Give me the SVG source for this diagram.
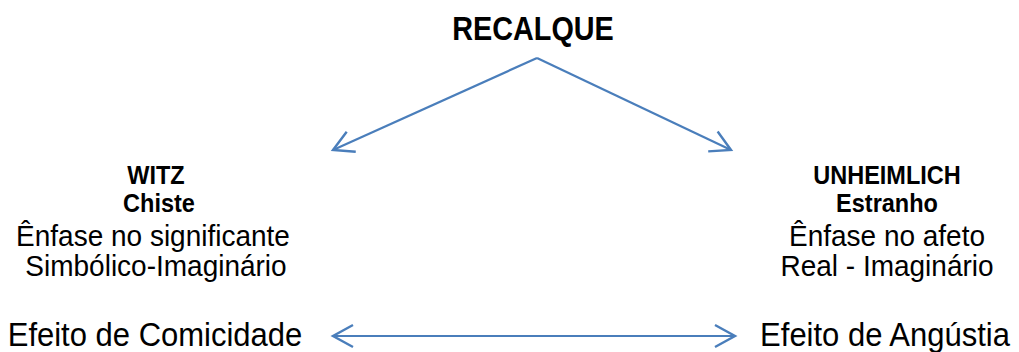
<svg xmlns="http://www.w3.org/2000/svg" width="1019" height="352" viewBox="0 0 1019 352">
  <style>
    text { font-family: "Liberation Sans", Arial, sans-serif; fill: #000; text-anchor: middle; }
    .title { font-weight: bold; font-size: 30px; }
    .head { font-weight: bold; font-size: 24px; }
    .body { font-size: 28px; }
    .effect { font-size: 31px; }
    .link { stroke: #4a7ebb; stroke-width: 2.2; fill: none; }
  </style>
  <defs>
    <marker id="open" markerUnits="userSpaceOnUse" markerWidth="30" markerHeight="30" refX="22" refY="12" orient="auto-start-reverse" viewBox="0 0 30 24">
      <path d="M2,1 L22,12 L2,23" fill="none" stroke="#4a7ebb" stroke-width="2.4" stroke-linejoin="miter"/>
    </marker>
  </defs>

  <!-- glyphs are drawn slightly taller than their natural proportions -->
  <g id="recalque">
    <text class="title" transform="translate(533,40) scale(0.96,1.12)">RECALQUE</text>
  </g>

  <g id="witz">
    <text class="head" transform="translate(156,184) scale(0.98,1.05)">WITZ</text>
    <text class="head" transform="translate(159,212) scale(0.98,1.05)">Chiste</text>
    <text class="body" transform="translate(153,246) scale(1,1.08)">Ênfase no significante</text>
    <text class="body" transform="translate(156,276) scale(1,1.08)">Simbólico-Imaginário</text>
  </g>

  <g id="unheimlich">
    <text class="head" transform="translate(887,184) scale(0.98,1.05)">UNHEIMLICH</text>
    <text class="head" transform="translate(887,212) scale(0.98,1.05)">Estranho</text>
    <text class="body" transform="translate(887,246) scale(1,1.08)">Ênfase no afeto</text>
    <text class="body" transform="translate(887,276) scale(1,1.08)">Real - Imaginário</text>
  </g>

  <g id="comicidade">
    <text class="effect" transform="translate(155,346) scale(1,1.08)">Efeito de Comicidade</text>
  </g>

  <g id="angustia">
    <text class="effect" transform="translate(885,346) scale(1,1.08)">Efeito de Angústia</text>
  </g>

  <g id="connectors">
    <line class="link" x1="537" y1="58" x2="333" y2="150" marker-end="url(#open)"/>
    <line class="link" x1="537" y1="58" x2="731" y2="150" marker-end="url(#open)"/>
    <line class="link" x1="333" y1="336" x2="735" y2="336" marker-start="url(#open)" marker-end="url(#open)"/>
  </g>
</svg>
